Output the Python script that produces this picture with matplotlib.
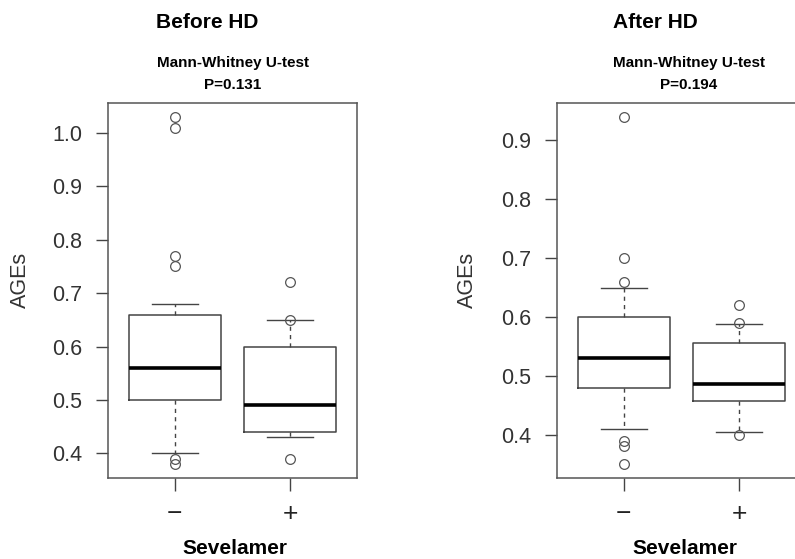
import matplotlib.pyplot as plt

plt.rcParams['font.family'] = ['Liberation Sans', 'DejaVu Sans']

# --- data (box statistics + plotted points) ---
groups = ["\u2212", "+"]

before_q1 = [0.50, 0.44]
before_med = [0.56, 0.49]
before_q3 = [0.66, 0.60]
before_lo = [0.40, 0.43]
before_hi = [0.68, 0.65]
before_pts = [[1.03, 1.01, 0.77, 0.75, 0.39, 0.38], [0.72, 0.65, 0.39]]

after_q1 = [0.48, 0.457]
after_med = [0.53, 0.486]
after_q3 = [0.60, 0.555]
after_lo = [0.41, 0.405]
after_hi = [0.65, 0.588]
after_pts = [[0.94, 0.70, 0.66, 0.39, 0.38, 0.35], [0.62, 0.59, 0.40]]

before_ticks = [0.4, 0.5, 0.6, 0.7, 0.8, 0.9, 1.0]
after_ticks = [0.4, 0.5, 0.6, 0.7, 0.8, 0.9]

titles = ["Before HD", "After HD"]
pvals = ["P=0.131", "P=0.194"]

W, H = 795, 559
fig = plt.figure(figsize=(W / 100, H / 100), dpi=100)

axes_px = [(108, 103, 249, 375), (557, 103, 249, 375)]
title_x = [207, 655]
test_x = [233, 689]
xlab_x = [234.5, 684.5]
ylab_x = [20, 467]

panels = [
    (before_q1, before_med, before_q3, before_lo, before_hi, before_pts, before_ticks),
    (after_q1, after_med, after_q3, after_lo, after_hi, after_pts, after_ticks),
]

edge = "#444444"
for i, (q1, med, q3, lo, hi, pts, ticks) in enumerate(panels):
    x0, y0, w, h = axes_px[i]
    ax = fig.add_axes([x0 / W, 1 - (y0 + h) / H, w / W, h / H])
    stats = []
    for j in range(len(groups)):
        stats.append(dict(q1=q1[j], med=med[j], q3=q3[j], whislo=lo[j], whishi=hi[j],
                          fliers=pts[j], label=groups[j]))
    ax.bxp(stats, positions=[1, 2], widths=0.8, patch_artist=False,
           boxprops=dict(color=edge, linewidth=1.1),
           medianprops=dict(color="black", linewidth=2.6, solid_capstyle="butt"),
           whiskerprops=dict(color=edge, linewidth=1.0, linestyle=(0, (3, 3))),
           capprops=dict(color=edge, linewidth=1.0),
           capwidths=0.4,
           flierprops=dict(marker="o", markersize=7, markerfacecolor="none",
                           markeredgecolor="#555555", markeredgewidth=0.9))
    # R default: data range padded by 4%
    lo_all = min(min(p) for p in pts)
    hi_all = max(max(p) for p in pts)
    pad = (hi_all - lo_all) * 0.04
    ax.set_ylim(lo_all - pad, hi_all + pad)
    ax.set_xlim(0.42, 2.58)
    ax.set_yticks(ticks)
    ax.set_yticklabels([f"{t:.1f}" for t in ticks], fontsize=15.5, color="#333333")
    ax.set_xticks([1, 2])
    ax.set_xticklabels(groups, fontsize=19, color="#222222")
    ax.tick_params(axis="y", length=8.6, width=1, color=edge, pad=10)
    ax.tick_params(axis="x", length=9.4, width=1, color=edge, pad=8)
    for s in ax.spines.values():
        s.set_color("#555555")
        s.set_linewidth(1.1)
    ax.set_ylabel("AGEs", fontsize=15.5, color="#333333")
    ax.yaxis.set_label_coords(ylab_x[i] / W, 0.5, transform=fig.transFigure)
    ax.yaxis.label.set_va("center")

    fig.text(title_x[i] / W, 1 - 23 / H, titles[i], ha="center", va="center",
             fontsize=15, fontweight="bold")
    fig.text(test_x[i] / W, 1 - 62.5 / H, "Mann-Whitney U-test", ha="center", va="center",
             fontsize=11, fontweight="bold")
    fig.text(test_x[i] / W, 1 - 85.5 / H, pvals[i], ha="center", va="center",
             fontsize=11, fontweight="bold")
    fig.text(xlab_x[i] / W, 1 - 558 / H, "Sevelamer", ha="center", va="bottom",
             fontsize=15, fontweight="bold")

fig.savefig("out.png", dpi=100)
